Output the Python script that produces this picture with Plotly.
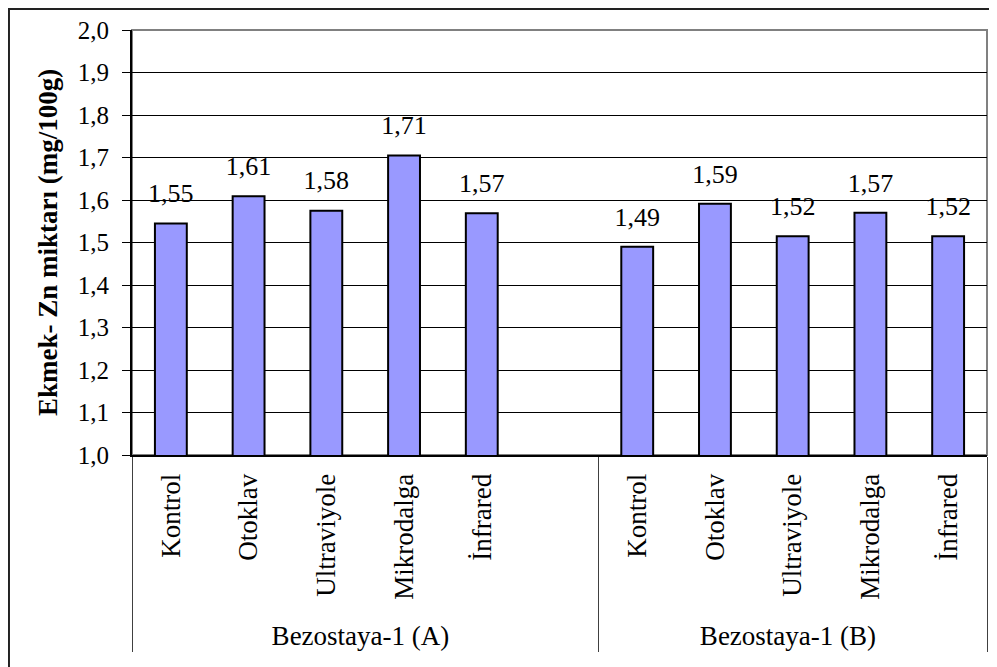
import plotly.graph_objects as go

groups = ["Bezostaya-1 (A)"] * 6 + ["Bezostaya-1 (B)"] * 5
categories = ["Kontrol", "Otoklav", "Ultraviyole", "Mikrodalga", "İnfrared", " ",
              "Kontrol", "Otoklav", "Ultraviyole", "Mikrodalga", "İnfrared"]
values = [1.545, 1.609, 1.575, 1.705, 1.569, None,
          1.490, 1.591, 1.515, 1.570, 1.515]
labels = ["1,55", "1,61", "1,58", "1,71", "1,57", "",
          "1,49", "1,59", "1,52", "1,57", "1,52"]
y_ticks = [1.0, 1.1, 1.2, 1.3, 1.4, 1.5, 1.6, 1.7, 1.8, 1.9, 2.0]
y_ticktext = ["1,0", "1,1", "1,2", "1,3", "1,4", "1,5", "1,6", "1,7", "1,8", "1,9", "2,0"]

FONT = "Liberation Serif"

fig = go.Figure()
fig.add_trace(go.Bar(
    x=[groups, categories], y=values, width=0.41,
    marker=dict(color="#9999FF", line=dict(color="black", width=2)),
    showlegend=False, hoverinfo="skip",
))
fig.add_trace(go.Scatter(
    x=[groups, categories], y=values, mode="markers+text", text=labels,
    textposition="top center",
    marker=dict(size=22, opacity=0),
    textfont=dict(family=FONT, size=26, color="black"),
    showlegend=False, hoverinfo="skip", cliponaxis=False,
))

fig.update_layout(
    width=989, height=659,
    margin=dict(l=124, r=10, t=22, b=212, autoexpand=False),
    paper_bgcolor="white", plot_bgcolor="white",
    font=dict(family=FONT, size=25, color="black"),
    shapes=[
        dict(type="rect", xref="paper", yref="paper", x0=0, x1=1, y0=0, y1=1,
             line=dict(color="#808080", width=2), layer="below"),
        dict(type="rect", xref="paper", yref="paper", x0=-0.1439, x1=1.05, y0=-0.55, y1=1.0494,
             line=dict(color="#222222", width=2), layer="below"),
    ],
)
fig.update_yaxes(
    range=[1.0, 2.0], tickvals=y_ticks, ticktext=y_ticktext,
    ticks="outside", ticklen=8, tickcolor="black", tickwidth=1,
    ticklabelstandoff=8,
    showgrid=True, gridcolor="black", gridwidth=1,
    showline=True, linecolor="black", linewidth=2,
    zeroline=False, automargin=False,
    tickfont=dict(family=FONT, size=25),
    title=dict(text="<b>Ekmek- Zn miktarı (mg/100g)</b>", standoff=12,
               font=dict(family=FONT, size=27)),
)
fig.update_xaxes(
    type="multicategory", range=[-0.5, 10.5],
    showline=True, linecolor="black", linewidth=2,
    ticks="", tickangle=-90, showdividers=True, dividercolor="#404040", dividerwidth=1,
    ticklabelstandoff=6,
    tickfont=dict(family=FONT, size=27), automargin=False, showgrid=False,
)

fig.write_html("out.html")
